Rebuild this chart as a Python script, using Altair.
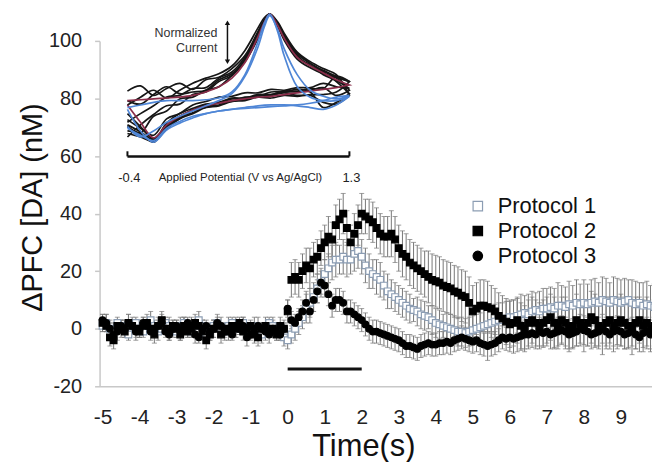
import altair as alt
import pandas as pd

FONT = "Liberation Sans"

# ---------------- main time series (10 Hz, t = -5.0 ... 9.9 s) ----------------
times = [round(-5.0 + 0.1 * i, 1) for i in range(150)]
protocols = ["Protocol 1", "Protocol 2", "Protocol 3"]

p1_pre = [1, 2, 0, -1, 2, 1, 0, -2, 1, 2,
          0, -1, 1, 3, 1, -1, 0, 2, 1, 0,
          -1, 1, 2, 0, -1, 1, 3, 1, -2, -1,
          1, 2, 0, -1, 1, 2, 0, 1, 2, -1,
          0, 1, -1, -2, 0, 2, 1, -1, -1, -3]
p1_post = [-4, -2, 0, 2, 4, 7, 9, 11, 14, 16,
           19, 21, 23, 24, 24, 25, 24, 24, 26, 27,
           25, 22, 20, 19, 18, 17, 15, 13, 12, 11,
           10, 9, 8, 7, 6.5, 6, 5, 4.5, 4, 3,
           2, 1.5, 1, 0.5, 0, -0.5, -1, -1, -1.5, -1,
           -0.5, 0, 0.5, 1, 1.5, 2, 2.5, 3, 3, 3.5,
           4, 4, 4.5, 5, 5.5, 5, 6, 6.5, 6, 7,
           7, 7.5, 7, 8, 8, 7.5, 8.5, 8, 9, 8.5,
           9, 8.5, 9, 9.5, 9, 10, 9.5, 9, 10, 9.5,
           9, 9.5, 10, 9, 8.5, 9, 8, 8.5, 8, 7.5]

p2_pre = [2, 1, -3, -4, 1, 0, -1, 2, 1, 0,
          -1, 1, 2, 0, -2, 1, 3, 0, -1, 1,
          0, -2, 1, -1, 0, 2, 1, -1, -4, -2,
          0, 1, -2, 0, -1, 1, 0, 2, -1, 0,
          1, -2, -3, 0, 1, -1, 0, -2, 1, 0]
p2_post = [6, 17, 18, 17, 20, 22, 21, 24, 25, 28,
           30, 32, 31, 36, 38, 40, 35, 30, 33, 36,
           40, 39, 38, 37, 35, 33, 32, 32, 33, 31,
           28, 26, 25, 23, 22, 21, 20, 19, 18, 17,
           16.5, 16, 15, 14.5, 14, 13, 12.5, 11.5, 11, 9,
           6, 7, 8, 8, 7.5, 7, 6, 4.5, 3.5, 2.5,
           1.5, 2, 3, 1, 0, 2, 3, 2, 1, 2,
           3, 4, 2, 1, 3, 2, 0, 1, 3, 2,
           1, 2, 4, 3, 1, 0, 2, 3, 1, 2,
           3, 2, 1, 0, 2, 3, 1, 2, 0, 1]

p3_pre = [3, 2, 0, -2, -1, 1, 0, 2, 1, -1,
          0, 2, 1, -1, 0, 1, 2, -1, -2, 0,
          1, -1, 0, 2, 1, -2, -3, 0, 1, -1,
          0, 2, 1, -1, 0, -2, 1, 0, 1, -3,
          -2, 0, 1, 0, -1, -2, 0, -1, -2, 0]
p3_post = [7, 3, 2, 4, 6, 9, 6, 10, 13, 16,
           15, 12, 8, 10, 10, 9, 6, 6, 5, 4,
           3, 1.5, 0, -1, -1, -1.5, -2, -2.5, -3, -3.5,
           -4, -5, -6, -6, -6.5, -7, -6, -5.5, -5, -5.5,
           -5.5, -5, -5, -4.5, -5, -4, -3.5, -3, -3.5, -4,
           -4.5, -4, -5, -5.5, -6, -5.5, -5, -4, -3, -3.5,
           -3, -3.5, -3, -2.5, -2, -2, -1.5, -2, -1, -1.5,
           -1, -2, -1.5, -1, -0.5, -1, -2, -1.5, -1, 0,
           -0.5, -1, -2, -1.5, -1, 0, -1, -2, -1, -0.5,
           -1, -2, -1.5, -1, -2, -3, -1.5, -1, -2, -1]

p1_err_pre = [2, 3, 2, 3, 2, 2, 3, 2, 3, 2, 3, 2, 2, 3, 2, 3, 2, 2, 3, 2,
              2, 3, 2, 3, 2, 2, 3, 2, 3, 3, 2, 3, 2, 2, 3, 2, 3, 2, 2, 3,
              2, 3, 2, 3, 2, 2, 3, 2, 3, 3]
p1_err_post = [3, 3, 4, 4, 4, 5, 5, 5, 5, 5,
               5, 5, 6, 6, 5, 6, 6, 5, 6, 6,
               6, 6, 6, 5, 6, 6, 5, 6, 5, 5,
               5, 5, 5, 5, 4, 5, 5, 5, 4, 5,
               5, 5, 4, 5, 5, 5, 5, 5, 5, 5,
               5, 5, 5, 6, 6, 5, 6, 6, 6, 6,
               6, 6, 6, 7, 6, 7, 7, 6, 7, 7,
               7, 7, 7, 8, 7, 7, 8, 7, 8, 7,
               8, 7, 8, 8, 7, 8, 8, 7, 8, 8,
               8, 8, 7, 8, 8, 7, 8, 8, 7, 8]
p2_err_pre = [3, 2, 3, 3, 2, 3, 2, 3, 2, 3, 2, 3, 3, 2, 3, 2, 3, 2, 3, 2,
              3, 2, 3, 2, 3, 3, 2, 3, 3, 2, 3, 2, 3, 2, 3, 2, 3, 2, 3, 2,
              2, 3, 3, 2, 3, 2, 3, 2, 3, 2]
p2_err_post = [4, 6, 6, 6, 6, 6, 7, 6, 6, 6,
               6, 7, 6, 7, 7, 7, 6, 6, 7, 7,
               7, 6, 7, 7, 7, 7, 7, 7, 8, 8,
               8, 8, 8, 8, 8, 8, 8, 8, 9, 9,
               9, 9, 9, 9, 9, 9, 9, 9, 9, 9,
               9, 9, 9, 9, 9, 8, 8, 8, 8, 8,
               8, 8, 8, 8, 8, 8, 8, 8, 8, 8,
               8, 8, 9, 8, 8, 9, 8, 8, 9, 8,
               9, 8, 9, 9, 8, 9, 9, 8, 9, 9,
               9, 9, 8, 9, 9, 8, 9, 9, 8, 9]
p3_err_pre = [2, 3, 3, 2, 3, 2, 2, 3, 2, 3, 3, 2, 2, 3, 2, 3, 3, 2, 2, 3,
              2, 3, 2, 2, 3, 3, 2, 3, 2, 2, 3, 2, 3, 3, 2, 2, 3, 2, 3, 3,
              2, 2, 3, 2, 3, 3, 2, 3, 2, 3]
p3_err_post = [3, 3, 3, 3, 4, 4, 4, 4, 4, 4,
               4, 4, 4, 4, 4, 4, 4, 4, 4, 4,
               4, 4, 4, 4, 4, 4, 4, 4, 4, 4,
               4, 4, 4, 4, 4, 4, 4, 4, 4, 4,
               4, 4, 4, 4, 4, 4, 4, 4, 4, 4,
               4, 4, 4, 4, 5, 4, 4, 4, 4, 4,
               5, 5, 5, 5, 5, 5, 5, 5, 5, 5,
               5, 5, 5, 5, 5, 5, 5, 5, 5, 5,
               5, 5, 5, 5, 5, 5, 5, 5, 5, 5,
               5, 5, 5, 5, 5, 5, 5, 5, 5, 5]

series_vals = [p1_pre + p1_post, p2_pre + p2_post, p3_pre + p3_post]
series_errs = [p1_err_pre + p1_err_post, p2_err_pre + p2_err_post, p3_err_pre + p3_err_post]

# stimulation bar (s) and its level (nM)
stim_start, stim_end, stim_level = [0.0], [2.0], [-14]

# ---------------- inset voltammograms ----------------
fwd_V = [-0.4, -0.3, -0.2, -0.1, 0.0, 0.1, 0.2, 0.3, 0.4, 0.5,
         0.6, 0.65, 0.69, 0.75, 0.8, 0.9, 1.0, 1.1, 1.2, 1.3]
rev_V = [1.3, 1.2, 1.1, 1.0, 0.9, 0.8, 0.7, 0.6, 0.5, 0.4,
         0.3, 0.2, 0.1, 0.0, -0.1, -0.2, -0.3, -0.4]

cv_curves = [
    ("k1", "black",
     [0.11, 0.17, 0.06, 0.14, 0.20, 0.13, 0.24, 0.27, 0.37, 0.52, 0.80, 0.94, 1.00, 0.86, 0.70, 0.48, 0.38, 0.31, 0.26, 0.12],
     [0.12, 0.06, 0.15, 0.12, 0.10, 0.10, 0.07, 0.06, 0.02, 0.02, -0.03, -0.05, -0.11, -0.18, -0.29, -0.44, -0.30, -0.15]),
    ("k2", "black",
     [-0.05, 0.04, 0.12, 0.03, 0.12, 0.20, 0.26, 0.31, 0.40, 0.58, 0.84, 0.96, 1.00, 0.88, 0.74, 0.52, 0.40, 0.34, 0.27, 0.22],
     [0.22, 0.28, 0.14, 0.14, 0.11, 0.11, 0.07, 0.07, 0.03, 0.03, -0.02, -0.04, -0.09, -0.15, -0.26, -0.46, -0.40, -0.30]),
    ("k3", "black",
     [-0.25, -0.15, -0.06, 0.04, 0.06, 0.14, 0.15, 0.26, 0.33, 0.50, 0.78, 0.92, 1.00, 0.90, 0.76, 0.55, 0.43, 0.33, 0.22, 0.08],
     [0.08, -0.02, -0.08, 0.10, 0.13, 0.10, 0.10, 0.05, 0.04, -0.01, -0.02, -0.08, -0.11, -0.21, -0.29, -0.48, -0.38, -0.35]),
    ("k4", "black",
     [-0.42, -0.28, -0.16, -0.06, -0.04, 0.07, 0.10, 0.22, 0.29, 0.48, 0.76, 0.92, 1.00, 0.87, 0.72, 0.50, 0.41, 0.30, 0.23, 0.14],
     [0.14, 0.16, 0.20, 0.15, 0.15, 0.12, 0.13, 0.09, 0.09, 0.05, 0.04, -0.01, -0.05, -0.15, -0.21, -0.40, -0.32, -0.22]),
    ("k5", "black",
     [0.0, -0.04, 0.07, 0.16, 0.08, 0.10, 0.12, 0.24, 0.31, 0.47, 0.74, 0.90, 1.00, 0.91, 0.78, 0.56, 0.45, 0.37, 0.30, 0.06],
     [0.06, -0.04, -0.02, 0.06, 0.05, 0.06, 0.03, 0.04, 0.00, -0.01, -0.06, -0.08, -0.15, -0.21, -0.33, -0.47, -0.42, -0.38]),
    ("k6", "black",
     [-0.30, -0.37, -0.18, -0.12, 0.02, 0.04, 0.12, 0.16, 0.29, 0.45, 0.72, 0.90, 1.00, 0.89, 0.75, 0.54, 0.43, 0.35, 0.28, 0.22],
     [0.22, 0.10, 0.07, 0.07, 0.06, 0.09, 0.06, 0.06, 0.01, 0.00, -0.05, -0.07, -0.14, -0.19, -0.31, -0.45, -0.36, -0.28]),
    ("r1", "red",
     [0.0, 0.01, 0.02, 0.03, 0.04, 0.06, 0.10, 0.16, 0.26, 0.44, 0.74, 0.91, 1.00, 0.87, 0.72, 0.50, 0.40, 0.32, 0.24, 0.18],
     [0.18, 0.15, 0.13, 0.11, 0.09, 0.07, 0.05, 0.04, 0.02, 0.00, -0.03, -0.06, -0.11, -0.18, -0.28, -0.43, -0.25, -0.05]),
    ("b1", "blue",
     [-0.08, -0.05, -0.02, 0.0, 0.0, 0.0, 0.01, 0.03, 0.10, 0.30, 0.68, 0.90, 1.00, 0.80, 0.52, 0.16, 0.04, 0.00, 0.00, 0.05],
     [0.05, -0.05, -0.10, -0.08, -0.06, -0.05, -0.05, -0.06, -0.08, -0.10, -0.12, -0.15, -0.20, -0.26, -0.34, -0.48, -0.35, -0.10]),
    ("b2", "blue",
     [-0.30, -0.42, -0.35, -0.25, -0.18, -0.12, -0.06, 0.00, 0.08, 0.28, 0.62, 0.86, 0.98, 0.82, 0.60, 0.30, 0.12, 0.05, 0.02, 0.06],
     [0.06, 0.04, 0.00, -0.03, -0.05, -0.06, -0.07, -0.08, -0.09, -0.10, -0.12, -0.15, -0.18, -0.24, -0.32, -0.46, -0.40, -0.32]),
]

# inset annotations (potential V, normalized current)
inset_axis_V = [-0.4, 1.3]
inset_axis_c = -0.644
inset_tick_c = -0.585
inset_labels = ["-0.4", "Applied Potential (V vs Ag/AgCl)", "1.3"]
inset_label_V = [-0.385, 0.465, 1.315]
inset_label_sizes = [13, 11.5, 13]
inset_label_c = -0.897
norm_text = ["Normalized", "Current"]
norm_text_V = 0.289
norm_text_c = [0.78, 0.61]
arrow_V = 0.366
arrow_c = [0.90, 0.45]

# ---------------- build tables ----------------
rows = []
for name, vs, es in zip(protocols, series_vals, series_errs):
    assert len(vs) == 150 and len(es) == 150, (name, len(vs), len(es))
    for t, v, e in zip(times, vs, es):
        rows.append({"protocol": name, "t": t, "v": v, "lo": v - e, "hi": v + e})
df = pd.DataFrame(rows)

cv_rows = []
for cid, grp, fwd, rev in cv_curves:
    assert len(fwd) == len(fwd_V) and len(rev) == len(rev_V), cid
    k = 0
    for V, c in zip(fwd_V + rev_V, fwd + rev):
        cv_rows.append({"curve": cid, "grp": grp, "k": k, "V": V, "c": c})
        k += 1
cv_df = pd.DataFrame(cv_rows)
grp_rank = {"black": 0, "red": 1, "blue": 2}
cv_df["rank"] = cv_df["grp"].map(grp_rank)
cv_df = cv_df.sort_values(["rank", "curve", "k"]).reset_index(drop=True)

# ---------------- main chart ----------------
xs = alt.Scale(domain=[-5.08, 9.84], nice=False, zero=False)
ys = alt.Scale(domain=[-20, 100], nice=False, zero=False)

x_axis = alt.Axis(values=list(range(-5, 10)), title="Time(s)", ticks=False, tickSize=0,
                  labelPadding=20, labelFontSize=21, labelColor="#222", labelFlush=False,
                  labelOverlap=False, labelExpr="toString(datum.value)",
                  titleFontSize=31, titleFontWeight="normal",
                  titleColor="#111", titleX=265, titleY=70, titleBaseline="alphabetic",
                  grid=False, domainColor="#c8c8c8", domainWidth=1.5)
y_axis = alt.Axis(values=[-20, 0, 20, 40, 60, 80, 100], title="ΔPFC [DA] (nM)",
                  tickSize=5, tickColor="#c8c8c8", tickWidth=1.5, labelPadding=13,
                  labelFontSize=20, labelColor="#222", labelFlush=False,
                  labelOverlap=False, labelExpr="toString(datum.value)",
                  titleFontSize=29, titleFontWeight="normal", titleColor="#111",
                  titleX=-58, titleY=167, titleBaseline="alphabetic",
                  grid=False, domainColor="#c8c8c8", domainWidth=1.5)

X = lambda f: alt.X(f, scale=xs, axis=x_axis)
Y = lambda f: alt.Y(f, scale=ys, axis=y_axis)

base = alt.Chart(df)
bars = base.mark_rule(color="#777", strokeWidth=1).encode(x=X("t:Q"), y=Y("lo:Q"), y2="hi:Q")
caps_hi = base.mark_tick(color="#777", orient="horizontal", size=5, thickness=1).encode(
    x=X("t:Q"), y=Y("hi:Q"))
caps_lo = base.mark_tick(color="#777", orient="horizontal", size=5, thickness=1).encode(
    x=X("t:Q"), y=Y("lo:Q"))

leg = alt.Legend(title=None, orient="none", legendX=369, legendY=155, padding=0,
                 labelFontSize=22, labelColor="#111", labelFont=FONT, symbolSize=90,
                 labelOffset=9, rowPadding=3, symbolStrokeWidth=1.2,
                 symbolFillColor="#000000", symbolStrokeColor="#000000")
points = base.mark_point(opacity=1, size=44, strokeWidth=1.2).encode(
    x=X("t:Q"),
    y=Y("v:Q"),
    shape=alt.Shape("protocol:N", scale=alt.Scale(domain=protocols, range=["square", "square", "circle"]), legend=leg),
    fill=alt.Fill("protocol:N", scale=alt.Scale(domain=protocols, range=["#ffffff", "#000000", "#000000"]), legend=leg),
    stroke=alt.Stroke("protocol:N", scale=alt.Scale(domain=protocols, range=["#8c9db3", "#000000", "#000000"]), legend=leg),
)

stim_df = pd.DataFrame({"a": stim_start, "b": stim_end, "y": stim_level})
stim = alt.Chart(stim_df).mark_rule(color="#111", strokeWidth=3).encode(
    x=X("a:Q"), x2="b:Q", y=Y("y:Q"))

main = alt.layer(bars, caps_hi, caps_lo, points, stim)

# ---------------- inset ----------------
ixs = alt.Scale(domain=[-0.4, 1.3], range=[28, 251], nice=False, zero=False)
iys = alt.Scale(domain=[0, 1], range=[60, -27], nice=False, zero=False)
IX = lambda f: alt.X(f, scale=ixs, axis=None)
IY = lambda f: alt.Y(f, scale=iys, axis=None)

cv_lines = alt.Chart(cv_df).mark_line(interpolate="catmull-rom", strokeWidth=1.7).encode(
    x=IX("V:Q"), y=IY("c:Q"),
    detail="curve:N",
    order="k:Q",
    color=alt.Color("grp:N", scale=alt.Scale(domain=["black", "red", "blue"],
                                             range=["#161616", "#8a2d4a", "#4f86d6"]), legend=None),
)

ax_df = pd.DataFrame({"a": [inset_axis_V[0]], "b": [inset_axis_V[1]], "c": [inset_axis_c]})
inset_axis = alt.Chart(ax_df).mark_rule(color="#111", strokeWidth=2.5).encode(
    x=IX("a:Q"), x2="b:Q", y=IY("c:Q"))
tick_df = pd.DataFrame({"V": inset_axis_V, "c1": [inset_axis_c] * 2, "c2": [inset_tick_c] * 2})
inset_ticks = alt.Chart(tick_df).mark_rule(color="#111", strokeWidth=2).encode(
    x=IX("V:Q"), y=IY("c1:Q"), y2="c2:Q")

lab_layers = []
for txt, V, fs in zip(inset_labels, inset_label_V, inset_label_sizes):
    ldf = pd.DataFrame({"V": [V], "c": [inset_label_c], "txt": [txt]})
    lab_layers.append(alt.Chart(ldf).mark_text(font=FONT, fontSize=fs, color="#222", baseline="middle",
                                               align="center").encode(x=IX("V:Q"), y=IY("c:Q"), text="txt:N"))

nt_df = pd.DataFrame({"V": [norm_text_V] * 2, "c": norm_text_c, "txt": norm_text})
norm_txt = alt.Chart(nt_df).mark_text(font=FONT, fontSize=12.5, color="#333", align="right", baseline="middle").encode(
    x=IX("V:Q"), y=IY("c:Q"), text="txt:N")

arr_df = pd.DataFrame({"V": [arrow_V], "c1": [arrow_c[0]], "c2": [arrow_c[1]]})
arrow_line = alt.Chart(arr_df).mark_rule(color="#111", strokeWidth=1.5).encode(
    x=IX("V:Q"), y=IY("c1:Q"), y2="c2:Q")
up_df = pd.DataFrame({"V": [arrow_V], "c": [arrow_c[0]]})
dn_df = pd.DataFrame({"V": [arrow_V], "c": [arrow_c[1]]})
head_up = alt.Chart(up_df).mark_point(shape="triangle-up", filled=True, opacity=1, size=28, color="#111").encode(
    x=IX("V:Q"), y=IY("c:Q"))
head_dn = alt.Chart(dn_df).mark_point(shape="triangle-down", filled=True, opacity=1, size=28, color="#111").encode(
    x=IX("V:Q"), y=IY("c:Q"))

inset = alt.layer(cv_lines, inset_axis, inset_ticks, *lab_layers, norm_txt, arrow_line, head_up, head_dn)

chart = alt.layer(main, inset).resolve_scale(
    x="independent", y="independent", color="independent"
).properties(
    width=555, height=347,
    autosize=alt.AutoSizeParams(type="none"),
    padding={"left": 92, "top": 32, "right": 0, "bottom": 75},
).configure(font=FONT).configure_view(stroke=None).configure_axis(labelOverlap=False)

chart.save("out.html", embed_options={"renderer": "svg", "actions": False})
